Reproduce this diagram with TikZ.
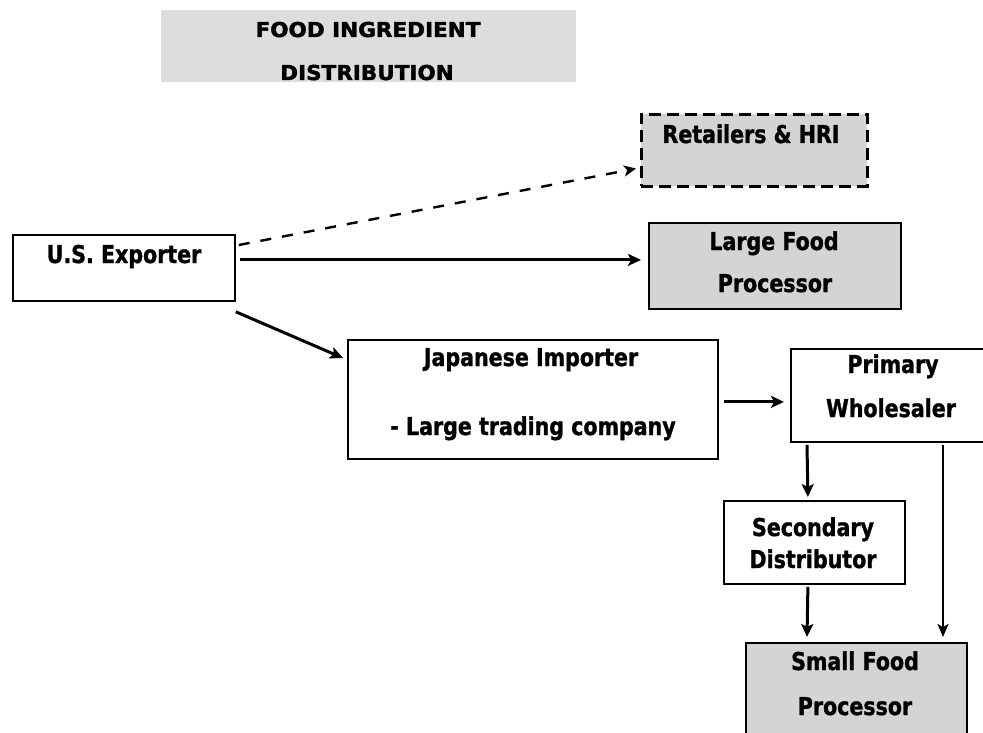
\documentclass[tikz,border=0pt]{standalone}
\usepackage{fontspec}
\usetikzlibrary{arrows.meta,calc}
\newfontfamily\boxfont[FakeStretch=0.84,FakeBold=1.2]{DejaVu Sans Bold}
\newfontfamily\titlefont[FakeStretch=1.05,FakeBold=2]{DejaVu Sans Bold}
\definecolor{titlegray}{RGB}{221,221,221}
\definecolor{boxgray}{RGB}{212,212,212}
\begin{document}
\begin{tikzpicture}[x=1pt,y=-1pt,
  box/.style={draw=black, line width=1.8pt, anchor=north west, inner sep=0pt, fill=white},
  graybox/.style={box, fill=boxgray},
  txt/.style={anchor=base, inner sep=0pt, font=\boxfont\fontsize{24.5}{28}\selectfont},
  ttl/.style={anchor=base, inner sep=0pt, font=\titlefont\fontsize{20.5}{24}\selectfont},
  arr/.style={line width=3pt, -{Stealth[length=13pt,width=12pt,inset=3pt]}},
  thinarr/.style={line width=2pt, -{Stealth[length=13pt,width=11pt,inset=3pt]}},
  dasharr/.style={line width=2.4pt, dash pattern=on 11pt off 11pt, -{Stealth[length=12pt,width=11pt,inset=3pt]}}
]
\useasboundingbox (0,0) rectangle (983,733);
\fill[white] (0,0) rectangle (983,733);

% title
\node[anchor=north west, fill=titlegray, minimum width=415pt, minimum height=72pt, inner sep=0pt] (title) at (161,10) {};
\node[ttl] (t1) at (368,37) {FOOD INGREDIENT};
\node[ttl] (t2) at (367,80) {DISTRIBUTION};

% boxes
\node[box, minimum width=222pt, minimum height=66pt] (usx) at (12,234) {};
\node[graybox, dash pattern=on 12pt off 6pt, line width=2.6pt, minimum width=226pt, minimum height=72pt] (ret) at (640,113) {};
\node[graybox, minimum width=252pt, minimum height=86pt] (lfp) at (648,222) {};
\node[box, minimum width=370pt, minimum height=119pt] (jp) at (347,339) {};
\node[box, minimum width=200pt, minimum height=93pt] (pw) at (790,348) {};
\node[box, minimum width=181pt, minimum height=83pt] (sd) at (723,500) {};
\node[graybox, minimum width=221pt, minimum height=100pt] (sf) at (745,642) {};

% texts
\node[txt] (usxt) at (124,263) {U.S. Exporter};
\node[txt] (rett) at (751,143) {Retailers \& HRI};
\node[txt] (lfpt1) at (774,250) {Large Food};
\node[txt] (lfpt2) at (775,292) {Processor};
\node[txt] (jpt1) at (531,366) {Japanese Importer};
\node[txt] (jpt2) at (533,435) {- Large trading company};
\node[txt] (pwt1) at (893,373) {Primary};
\node[txt] (pwt2) at (891,417) {Wholesaler};
\node[txt] (sdt1) at (813,536) {Secondary};
\node[txt] (sdt2) at (813,568) {Distributor};
\node[txt] (sft1) at (855,670) {Small Food};
\node[txt] (sft2) at (855,715) {Processor};

% connectors
\draw[dasharr] ($(usx.north east)+(3,11)$) -- ($(ret.south west)+(-4,-19)$);
\draw[arr] ($(usx.east)+(4,-8)$) -- ($(lfp.west)+(-7,-6)$);
\draw[arr] ($(usx.south east)+(0,10)$) -- ($(jp.north west)+(-4,19)$);
\draw[arr] ($(jp.east)+(5,2.5)$) -- ($(pw.west)+(-6,6.5)$);
\draw[arr] ($(pw.south west)+(17,2)$) -- ($(sd.north)+(-6.5,-3)$);
\draw[thinarr] ($(pw.south west)+(153,2)$) -- ($(sf.north west)+(198,-5)$);
\draw[arr] ($(sd.south)+(-6.5,2)$) -- ($(sf.north west)+(62,-5)$);
\end{tikzpicture}
\end{document}
